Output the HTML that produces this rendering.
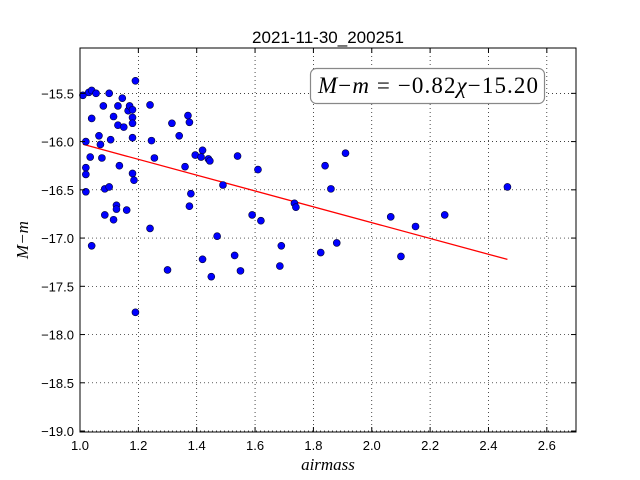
<!DOCTYPE html>
<html><head><meta charset="utf-8"><style>
body{margin:0;background:#fff;}
svg{display:block;font-family:"Liberation Sans",sans-serif;}
</style></head><body>
<svg id="chart" width="640" height="480" xmlns="http://www.w3.org/2000/svg">
<rect width="640" height="480" fill="#fff"/>
<text x="328" y="43" font-size="17" text-anchor="middle">2021-11-30_200251</text>
<g id="grid"></g>
<g id="marks"></g>
<rect x="80" y="48" width="496" height="384" fill="none" stroke="#000" stroke-width="1"/>
<g id="ticks"></g>
<g>
<rect x="310.5" y="68.5" width="234" height="35" rx="6" fill="#fff" stroke="#888" stroke-width="1.2"/>
<text x="318" y="93" font-size="23" textLength="220" lengthAdjust="spacing" font-family="'Liberation Serif',serif"><tspan font-style="italic">M</tspan>−<tspan font-style="italic">m</tspan> = −0.82<tspan font-style="italic">χ</tspan>−15.20</text>
</g>
<text x="328" y="470" font-size="17" text-anchor="middle" font-style="italic" font-family="'Liberation Serif',serif">airmass</text>
<text x="0" y="0" font-size="17" text-anchor="middle" font-style="italic" font-family="'Liberation Serif',serif" transform="translate(28,240) rotate(-90)">M−m</text>
</svg>
<script>
const airmass=[1.02,1.01,1.03,1.04,1.055,1.04,1.035,1.02,1.02,1.02,1.04,1.08,1.10,1.065,1.07,1.075,1.085,1.10,1.085,1.115,1.105,1.115,1.13,1.13,1.145,1.15,1.135,1.125,1.125,1.16,1.165,1.17,1.18,1.18,1.18,1.18,1.18,1.185,1.19,1.19,1.24,1.245,1.255,1.24,1.30,1.315,1.34,1.36,1.37,1.375,1.375,1.38,1.395,1.415,1.42,1.44,1.445,1.42,1.45,1.47,1.49,1.53,1.54,1.55,1.59,1.61,1.62,1.685,1.69,1.735,1.74,1.825,1.84,1.86,1.88,1.91,2.065,2.10,2.15,2.25,2.465];
const magDiff=[-16.0,-15.52,-15.49,-15.47,-15.5,-15.76,-16.16,-16.27,-16.34,-16.52,-17.08,-15.63,-15.5,-15.94,-16.03,-16.17,-16.49,-16.47,-16.76,-16.81,-15.98,-15.74,-15.63,-15.83,-15.55,-15.85,-16.25,-16.66,-16.70,-16.71,-15.68,-15.63,-15.67,-15.75,-15.81,-15.96,-16.33,-16.40,-15.37,-17.77,-15.62,-15.99,-16.17,-16.90,-17.33,-15.81,-15.94,-16.26,-15.73,-15.80,-16.67,-16.54,-16.14,-16.16,-16.09,-16.18,-16.20,-17.22,-17.40,-16.98,-16.45,-17.18,-16.15,-17.34,-16.76,-16.29,-16.82,-17.29,-17.08,-16.64,-16.68,-17.15,-16.25,-16.49,-17.05,-16.12,-16.78,-17.19,-16.88,-16.76,-16.47];
const fitSlope=-0.82, fitIntercept=-15.20;
const xTicks=[1.0,1.2,1.4,1.6,1.8,2.0,2.2,2.4,2.6];
const xTickLabels=["1.0","1.2","1.4","1.6","1.8","2.0","2.2","2.4","2.6"];
const yTicks=[-15.5,-16.0,-16.5,-17.0,-17.5,-18.0,-18.5,-19.0];
const yTickLabels=["−15.5","−16.0","−16.5","−17.0","−17.5","−18.0","−18.5","−19.0"];
const X0=80,X1=576,Y0=48,Y1=432,xmin=1.0,xmax=2.7,ymin=-19.01,ymax=-15.03;
const sx=v=>X0+(v-xmin)/(xmax-xmin)*(X1-X0);
const sy=v=>Y1-(v-ymin)/(ymax-ymin)*(Y1-Y0);
const NS="http://www.w3.org/2000/svg";
function mk(tag,attrs,parent){const e=document.createElementNS(NS,tag);for(const k in attrs)e.setAttribute(k,attrs[k]);parent.appendChild(e);return e;}
const grid=document.getElementById('grid'),ticks=document.getElementById('ticks'),marks=document.getElementById('marks');
xTicks.forEach((t,i)=>{const x=sx(t);
 const g=mk('line',{x1:x,x2:x,y1:Y0,y2:Y1,stroke:'#000','stroke-dasharray':'1,3','stroke-width':0.7},grid);
 
 
 mk('line',{x1:x,x2:x,y1:Y1,y2:Y1-5,stroke:'#000'},ticks);
 mk('line',{x1:x,x2:x,y1:Y0,y2:Y0+5,stroke:'#000'},ticks);
 const l=mk('text',{x:x,y:Y1+18,'font-size':13,'text-anchor':'middle'},ticks);l.textContent=xTickLabels[i];
 
 
});
yTicks.forEach((t,i)=>{const y=sy(t);
 const g=mk('line',{x1:X0,x2:X1,y1:y,y2:y,stroke:'#000','stroke-dasharray':'1,3','stroke-width':0.7},grid);
 
 
 mk('line',{x1:X0,x2:X0+5,y1:y,y2:y,stroke:'#000'},ticks);
 mk('line',{x1:X1,x2:X1-5,y1:y,y2:y,stroke:'#000'},ticks);
 const l=mk('text',{x:X0-6,y:y+5,'font-size':13,'text-anchor':'end'},ticks);l.textContent=yTickLabels[i];
 
 
});
const xa=Math.min(...airmass),xb=Math.max(...airmass);
const fl=mk('line',{x1:sx(xa),y1:sy(fitSlope*xa+fitIntercept),x2:sx(xb),y2:sy(fitSlope*xb+fitIntercept),stroke:'#f00','stroke-width':1.3},marks);


airmass.forEach((a,i)=>{
 const c=mk('circle',{cx:sx(a),cy:sy(magDiff[i]),r:3.5,fill:'#0000ff',stroke:'#000033','stroke-width':0.6},marks);
 
 
});
</script>
</body></html>
